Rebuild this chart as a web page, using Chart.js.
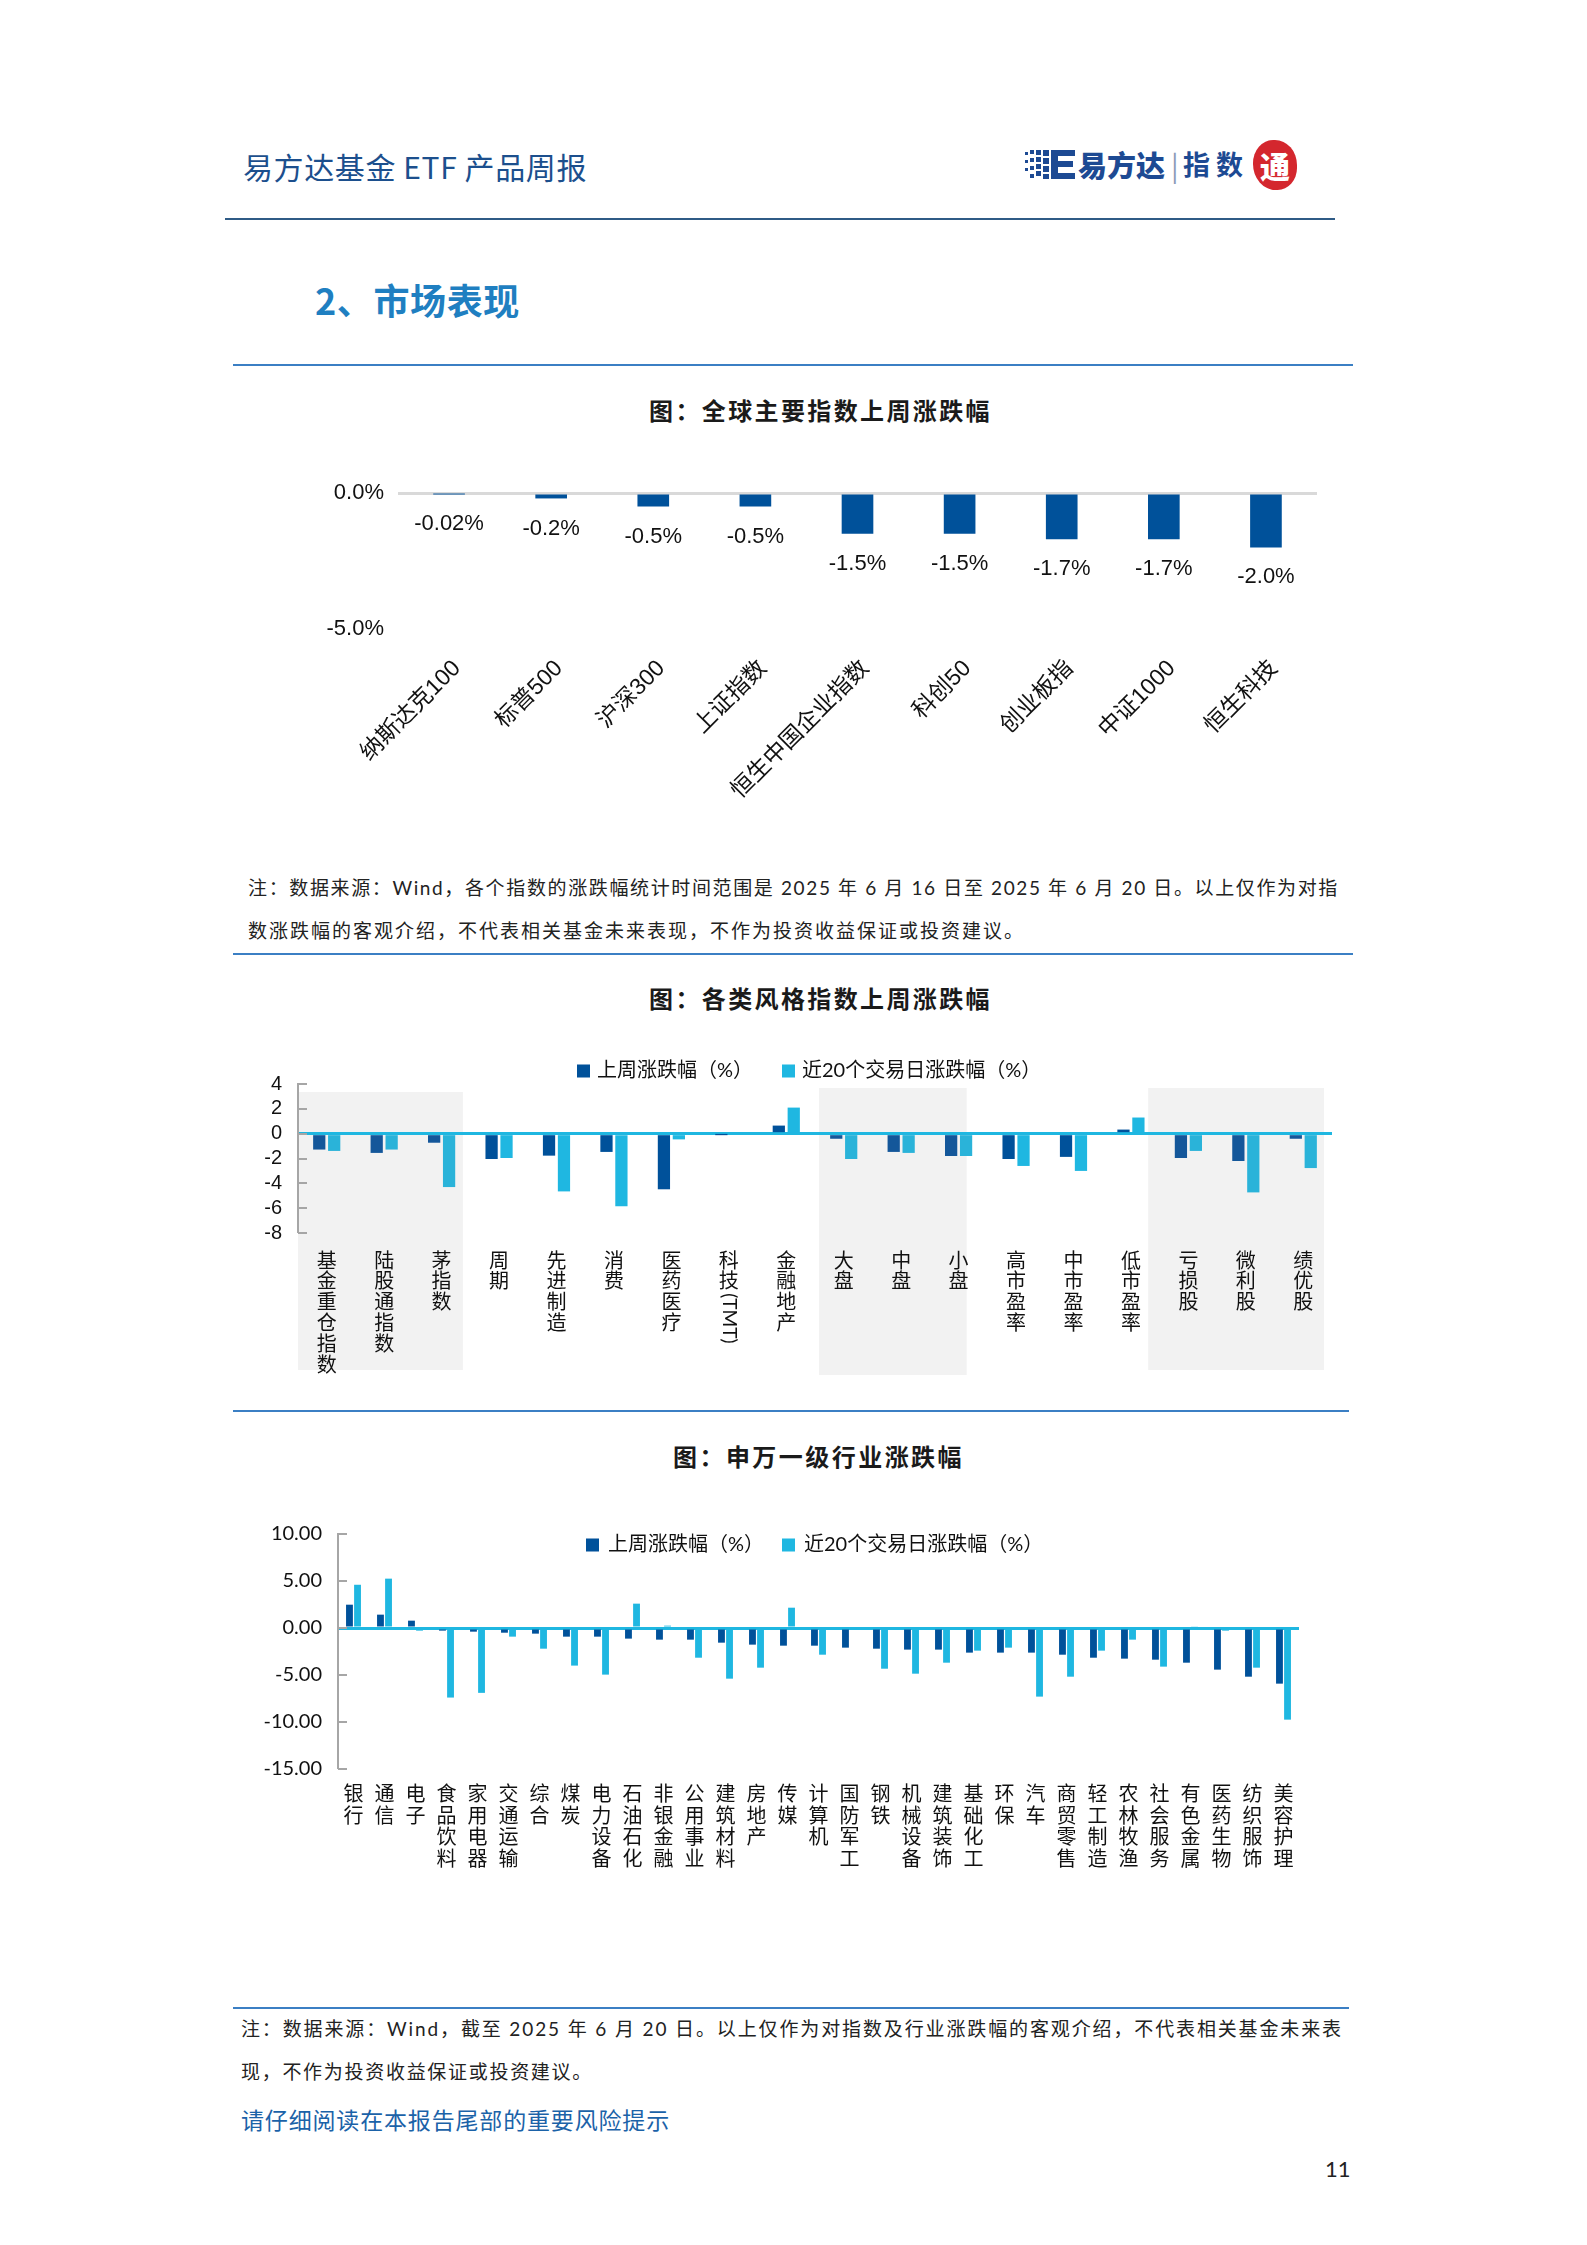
<!DOCTYPE html>
<html lang="zh-CN">
<head>
<meta charset="utf-8">
<title>易方达基金 ETF 产品周报</title>
<script src="https://cdn.jsdelivr.net/npm/chart.js@4.4.1/dist/chart.umd.min.js"></script>
<style>
html, body { margin: 0; padding: 0; background: #fff; }
#pagina { position: relative; width: 1587px; height: 2245px; overflow: hidden; font-family: 'Noto Sans CJK SC', sans-serif; }
.t { position: absolute; white-space: nowrap; height: 40px; line-height: 40px; }
.nota { font-family: 'Lato', 'Noto Sans CJK SC', sans-serif; font-size: 19px; color: #222; }
.titulo { font-size: 24px; font-weight: 700; color: #1a1a1a; }
.linea { position: absolute; height: 0; }
.lienzo { position: absolute; }
</style>
</head>
<body>
<div id="pagina">
    <!-- Cabecera -->
    <div class="t fit" data-w="344" style="left:243px;top:146px;font-size:30px;color:#1c4f8d;">易方达基金 ETF 产品周报</div>
    <div style="position:absolute;left:1025px;top:140px;width:280px;height:52px;">
        <svg width="52" height="36" style="position:absolute;left:0;top:8px">
            <g fill="#1d4a93">
                <rect x="0" y="4" width="3" height="3"/><rect x="0" y="12" width="3" height="3"/><rect x="0" y="20" width="3" height="3"/>
                <rect x="5" y="2" width="4" height="4"/><rect x="5" y="10" width="4" height="4"/><rect x="5" y="18" width="4" height="4"/><rect x="5" y="26" width="4" height="4"/>
                <rect x="11" y="2" width="5" height="5"/><rect x="11" y="9" width="5" height="5"/><rect x="11" y="16" width="5" height="5"/><rect x="11" y="23" width="5" height="5"/>
                <rect x="18" y="2" width="6" height="6"/><rect x="18" y="10" width="6" height="6"/><rect x="18" y="18" width="6" height="6"/><rect x="18" y="26" width="6" height="5"/>
                <path d="M26 2 H50 V8 H33 V13 H48 V19 H33 V25 H50 V31 H26 Z"/>
            </g>
        </svg>
        <div style="position:absolute;left:53px;top:2px;font-size:29px;font-weight:900;color:#1d4a93;line-height:44px;">易方达</div>
        <div style="position:absolute;left:146px;top:2px;font-size:28px;color:#8a9bb8;line-height:44px;">|</div>
        <div style="position:absolute;left:158px;top:2px;font-size:27px;font-weight:700;color:#1d4a93;line-height:44px;letter-spacing:6px;">指数</div>
        <div style="position:absolute;left:228px;top:0px;width:44px;height:50px;border-radius:46% 50% 44% 52%;background:#d4272e;color:#fff;font-size:30px;font-weight:900;line-height:50px;text-align:center;">通</div>
    </div>
    <div class="linea" style="left:225px;top:218px;width:1110px;border-top:2px solid #2f5b86;"></div>

    <div class="t fit" data-w="205" style="left:315px;top:279px;font-size:36px;font-weight:700;color:#1f7fc1;">2、市场表现</div>
    <div class="linea" style="left:233px;top:364px;width:1120px;border-top:2px solid #3b7fc4;"></div>

    <!-- Gráfico 1 -->
    <div class="t titulo fit" data-w="343" style="left:649px;top:390px;">图：全球主要指数上周涨跌幅</div>
    <canvas id="grafico1" class="lienzo" width="1120" height="400" style="left:240px;top:465px;"></canvas>
    <div class="t nota fit" data-w="1091" style="left:248px;top:868px;">注：数据来源：Wind，各个指数的涨跌幅统计时间范围是 2025 年 6 月 16 日至 2025 年 6 月 20 日。以上仅作为对指</div>
    <div class="t nota fit" data-w="777" style="left:248px;top:911px;">数涨跌幅的客观介绍，不代表相关基金未来表现，不作为投资收益保证或投资建议。</div>
    <div class="linea" style="left:233px;top:953px;width:1120px;border-top:2px solid #3b7fc4;"></div>

    <!-- Gráfico 2 -->
    <div class="t titulo fit" data-w="343" style="left:649px;top:978px;">图：各类风格指数上周涨跌幅</div>
    <canvas id="grafico2" class="lienzo" width="1130" height="360" style="left:230px;top:1030px;"></canvas>
    <div class="linea" style="left:233px;top:1410px;width:1116px;border-top:2px solid #3b7fc4;"></div>

    <!-- Gráfico 3 -->
    <div class="t titulo fit" data-w="291" style="left:673px;top:1436px;">图：申万一级行业涨跌幅</div>
    <canvas id="grafico3" class="lienzo" width="1130" height="384" style="left:230px;top:1506px;"></canvas>

    <!-- Pie -->
    <div class="linea" style="left:233px;top:2007px;width:1116px;border-top:2px solid #3b7fc4;"></div>
    <div class="t nota fit" data-w="1102" style="left:241px;top:2009px;">注：数据来源：Wind，截至 2025 年 6 月 20 日。以上仅作为对指数及行业涨跌幅的客观介绍，不代表相关基金未来表</div>
    <div class="t nota fit" data-w="352" style="left:241px;top:2052px;">现，不作为投资收益保证或投资建议。</div>
    <div class="t fit" data-w="429" style="left:241px;top:2099px;font-size:23px;color:#1b62a8;">请仔细阅读在本报告尾部的重要风险提示</div>
    <div class="t" style="left:1325px;top:2149px;font-family:'Lato',sans-serif;font-size:22px;color:#222;">11</div>
</div>

<script>
// Datos: índices globales (%)
const indicesGlobales = ['纳斯达克100', '标普500', '沪深300', '上证指数', '恒生中国企业指数', '科创50', '创业板指', '中证1000', '恒生科技'];
const cambioIndices = [-0.02, -0.2, -0.5, -0.5, -1.5, -1.5, -1.7, -1.7, -2.0];
const ticksIndices = [0, -5];

// Datos: índices de estilo (%)
const estilos = ['基金重仓指数', '陆股通指数', '茅指数', '周期', '先进制造', '消费', '医药医疗', '科技(TMT)', '金融地产',
    '大盘', '中盘', '小盘', '高市盈率', '中市盈率', '低市盈率', '亏损股', '微利股', '绩优股'];
const estiloSemana = [-1.28, -1.55, -0.73, -2.04, -1.77, -1.47, -4.48, -0.02, 0.65, -0.41, -1.47, -1.8, -2.04, -1.87, 0.33, -1.96, -2.2, -0.41];
const estilo20d = [-1.39, -1.28, -4.3, -1.96, -4.65, -5.84, -0.46, 0.03, 2.1, -2.04, -1.55, -1.8, -2.6, -3.0, 1.3, -1.39, -4.73, -2.77];
const ticksEstilos = [4, 2, 0, -2, -4, -6, -8];
const gruposSombreados = [[0, 2], [9, 11], [15, 17]];

// Datos: industrias 申万一级 (%)
const industrias = ['银行', '通信', '电子', '食品饮料', '家用电器', '交通运输', '综合', '煤炭', '电力设备', '石油石化', '非银金融',
    '公用事业', '建筑材料', '房地产', '传媒', '计算机', '国防军工', '钢铁', '机械设备', '建筑装饰', '基础化工', '环保', '汽车',
    '商贸零售', '轻工制造', '农林牧渔', '社会服务', '有色金属', '医药生物', '纺织服饰', '美容护理'];
const industriaSemana = [2.48, 1.42, 0.78, -0.28, -0.39, -0.5, -0.6, -0.92, -0.92, -1.13, -1.24, -1.24, -1.56, -1.77, -1.88, -1.88,
    -2.09, -2.2, -2.3, -2.3, -2.62, -2.62, -2.62, -2.84, -3.16, -3.26, -3.37, -3.69, -4.43, -5.18, -5.92];
const industria20d = [4.6, 5.25, -0.28, -7.4, -6.9, -0.92, -2.2, -4.0, -4.96, 2.59, 0.25, -3.16, -5.39, -4.22, 2.16, -2.84,
    -0.05, -4.33, -4.86, -3.69, -2.41, -2.09, -7.3, -5.18, -2.41, -1.24, -4.11, 0.14, -0.28, -4.22, -9.75];
const ticksIndustrias = [10, 5, 0, -5, -10, -15];

const nombreSemana = '上周涨跌幅（%）';
const nombre20d = '近20个交易日涨跌幅（%）';

const AZUL = '#00519a';
const CIAN = '#1fb7e1';
const AZUL_SOMBRA = '#14579a';
const CIAN_SOMBRA = '#2ab3d9';
const SANS = "'Liberation Sans', Arial, Helvetica, 'Noto Sans CJK SC', sans-serif";

Chart.defaults.font.family = SANS;
Chart.defaults.color = '#111';

// Ajustar el ancho de los textos
function ajustarTextos() {
    document.querySelectorAll('.fit').forEach(el => {
        const objetivo = parseFloat(el.dataset.w);
        el.style.letterSpacing = '0px';
        const natural = el.getBoundingClientRect().width;
        const n = [...el.textContent].length;
        el.style.letterSpacing = ((objetivo - natural) / n) + 'px';
    });
}

// Plugin: etiquetas de valor bajo cada barra
const etiquetasPlugin = {
    id: 'etiquetas',
    afterDatasetsDraw(chart, args, opts) {
        const ctx = chart.ctx;
        const meta = chart.getDatasetMeta(0);
        const valores = chart.data.datasets[0].data;
        ctx.save();
        ctx.font = opts.font;
        ctx.fillStyle = '#111';
        ctx.textAlign = 'center';
        ctx.textBaseline = 'middle';
        meta.data.forEach((barra, i) => {
            const v = valores[i];
            const texto = (Math.abs(v) < 0.1 ? v.toFixed(2) : v.toFixed(1)) + '%';
            ctx.fillText(texto, barra.x, barra.y + opts.desfase);
        });
        ctx.restore();
    }
};

// Plugin: leyenda dibujada en una posición fija
const leyendaPlugin = {
    id: 'leyenda',
    afterDraw(chart, args, opts) {
        const ctx = chart.ctx;
        ctx.save();
        ctx.font = opts.font;
        ctx.textBaseline = 'middle';
        ctx.textAlign = 'left';
        chart.data.datasets.forEach((ds, i) => {
            const item = opts.items[i];
            ctx.fillStyle = ds.colorLeyenda;
            ctx.fillRect(item.x, opts.y - opts.lado / 2, opts.lado, opts.lado);
            ctx.fillStyle = '#111';
            ctx.fillText(ds.label, item.x + opts.lado + opts.hueco, opts.y);
        });
        ctx.restore();
    }
};

// Plugin: zonas grises de fondo
const sombraPlugin = {
    id: 'sombra',
    beforeDraw(chart, args, opts) {
        const x = chart.scales.x;
        const ctx = chart.ctx;
        const paso = x.width / chart.data.labels.length;
        ctx.save();
        ctx.fillStyle = opts.color;
        opts.zonas.forEach((z, i) => {
            const grupo = gruposSombreados[i];
            const x0 = x.getPixelForValue(grupo[0]) - paso * z.izq;
            const x1 = x.getPixelForValue(grupo[1]) + paso * z.der;
            ctx.fillRect(x0, z.arriba, x1 - x0, z.abajo - z.arriba);
        });
        ctx.restore();
    }
};

// Plugin: marcas cortas del eje Y hacia dentro
const marcasPlugin = {
    id: 'marcas',
    afterDraw(chart, args, opts) {
        const y = chart.scales.y;
        const ctx = chart.ctx;
        const x0 = chart.chartArea.left;
        ctx.save();
        ctx.strokeStyle = opts.color;
        ctx.lineWidth = 2;
        y.ticks.forEach(t => {
            const py = Math.round(y.getPixelForValue(t.value));
            ctx.beginPath();
            ctx.moveTo(x0, py);
            ctx.lineTo(x0 + opts.largo, py);
            ctx.stroke();
        });
        ctx.restore();
    }
};

// Plugin: texto latino girado en etiquetas verticales, p.ej. (TMT)
const giradoPlugin = {
    id: 'girado',
    afterDraw(chart, args, opts) {
        const x = chart.scales.x;
        const ctx = chart.ctx;
        ctx.save();
        ctx.font = opts.font;
        ctx.fillStyle = '#111';
        ctx.textAlign = 'left';
        ctx.textBaseline = 'middle';
        chart.data.labels.forEach((etq, i) => {
            const m = etq.match(/\(.*\)/);
            if (!m) return;
            const lineas = etq.replace(m[0], '').length;
            const px = x.getPixelForValue(i);
            const py = x.top + opts.relleno + lineas * opts.alto + 2;
            ctx.save();
            ctx.translate(px, py);
            ctx.rotate(Math.PI / 2);
            ctx.fillText(m[0], 0, 0);
            ctx.restore();
        });
        ctx.restore();
    }
};

function lineaCero(color) {
    return {
        drawTicks: false,
        color: c => (c.tick && c.tick.value === 0) ? color : 'rgba(0,0,0,0)',
        lineWidth: c => (c.tick && c.tick.value === 0) ? 3 : 0
    };
}

function etiquetaVertical(etq) {
    return [...etq.replace(/\(.*\)/, '')];
}

// Gráfico 1: índices globales
function crearGrafico1() {
    const ctx = document.getElementById('grafico1').getContext('2d');
    new Chart(ctx, {
        type: 'bar',
        data: {
            labels: indicesGlobales,
            datasets: [{
                label: '上周涨跌幅',
                data: cambioIndices,
                backgroundColor: AZUL,
                categoryPercentage: 1,
                barPercentage: 0.31
            }]
        },
        options: {
            responsive: false,
            animation: false,
            events: [],
            layout: { padding: { top: 28, right: 43, left: 0, bottom: 0 } },
            plugins: {
                legend: { display: false },
                tooltip: { enabled: false },
                etiquetas: { font: "22px " + SANS, desfase: 30 }
            },
            scales: {
                x: {
                    afterFit: s => { s.height = 236; },
                    grid: { display: false, drawTicks: false },
                    border: { display: false },
                    ticks: {
                        autoSkip: false,
                        minRotation: 45,
                        maxRotation: 45,
                        padding: 26,
                        labelOffset: 8,
                        color: '#111',
                        font: { size: 23 }
                    }
                },
                y: {
                    min: -5,
                    max: 0,
                    afterFit: s => { s.width = 158; },
                    afterBuildTicks: s => { s.ticks = ticksIndices.map(v => ({ value: v })); },
                    grid: lineaCero('#d9d9d9'),
                    border: { display: false },
                    ticks: {
                        autoSkip: false,
                        padding: 14,
                        color: '#111',
                        font: { size: 22 },
                        callback: v => v.toFixed(1) + '%'
                    }
                }
            }
        },
        plugins: [etiquetasPlugin]
    });
}

// Gráfico 2: índices de estilo
function crearGrafico2() {
    const enSombra = i => gruposSombreados.some(g => i >= g[0] && i <= g[1]);
    const ctx = document.getElementById('grafico2').getContext('2d');
    new Chart(ctx, {
        type: 'bar',
        data: {
            labels: estilos,
            datasets: [{
                label: nombreSemana,
                data: estiloSemana,
                colorLeyenda: AZUL,
                backgroundColor: c => enSombra(c.dataIndex) ? AZUL_SOMBRA : AZUL,
                categoryPercentage: 0.52,
                barPercentage: 0.82
            }, {
                label: nombre20d,
                data: estilo20d,
                colorLeyenda: CIAN,
                backgroundColor: c => enSombra(c.dataIndex) ? CIAN_SOMBRA : CIAN,
                categoryPercentage: 0.52,
                barPercentage: 0.82
            }]
        },
        options: {
            responsive: false,
            animation: false,
            events: [],
            layout: { padding: { top: 54, right: 28, left: 0, bottom: 0 } },
            plugins: {
                legend: { display: false },
                tooltip: { enabled: false },
                leyenda: {
                    font: "20px 'Lato', 'Noto Sans CJK SC'",
                    y: 41, lado: 13, hueco: 7,
                    items: [{ x: 347 }, { x: 552 }]
                },
                sombra: {
                    color: '#f2f2f2',
                    zonas: [
                        { izq: 0.5, der: 0.37, arriba: 62, abajo: 340 },
                        { izq: 0.43, der: 0.14, arriba: 58, abajo: 345 },
                        { izq: 0.7, der: 0.36, arriba: 58, abajo: 340 }
                    ]
                },
                marcas: { color: '#a6a6a6', largo: 9 },
                girado: { font: "19px 'Lato'", relleno: 16.5, alto: 20.9 }
            },
            scales: {
                x: {
                    afterFit: s => { s.height = 157; },
                    grid: { display: false, drawTicks: false },
                    border: { display: false },
                    ticks: {
                        autoSkip: false,
                        maxRotation: 0,
                        padding: 16.5,
                        color: '#111',
                        font: { size: 20, lineHeight: 1.045, family: "'Noto Sans CJK SC'" },
                        callback: function (v) { return etiquetaVertical(this.getLabelForValue(v)); }
                    }
                },
                y: {
                    min: -8,
                    max: 4,
                    afterFit: s => { s.width = 68; },
                    afterBuildTicks: s => { s.ticks = ticksEstilos.map(v => ({ value: v })); },
                    grid: lineaCero(CIAN),
                    border: { display: true, color: '#a6a6a6', width: 2 },
                    ticks: {
                        autoSkip: false,
                        padding: 16,
                        color: '#111',
                        font: { size: 20 }
                    }
                }
            }
        },
        plugins: [sombraPlugin, marcasPlugin, leyendaPlugin, giradoPlugin]
    });
}

// Gráfico 3: industrias
function crearGrafico3() {
    const ctx = document.getElementById('grafico3').getContext('2d');
    new Chart(ctx, {
        type: 'bar',
        data: {
            labels: industrias,
            datasets: [{
                label: nombreSemana,
                data: industriaSemana,
                colorLeyenda: AZUL,
                backgroundColor: AZUL,
                categoryPercentage: 0.52,
                barPercentage: 0.85
            }, {
                label: nombre20d,
                data: industria20d,
                colorLeyenda: CIAN,
                backgroundColor: CIAN,
                categoryPercentage: 0.52,
                barPercentage: 0.85
            }]
        },
        options: {
            responsive: false,
            animation: false,
            events: [],
            layout: { padding: { top: 28, right: 61, left: 0, bottom: 0 } },
            plugins: {
                legend: { display: false },
                tooltip: { enabled: false },
                leyenda: {
                    font: "20px 'Lato', 'Noto Sans CJK SC'",
                    y: 39, lado: 13, hueco: 9,
                    items: [{ x: 356 }, { x: 552 }]
                },
                marcas: { color: '#a6a6a6', largo: 9 }
            },
            scales: {
                x: {
                    afterFit: s => { s.height = 121; },
                    grid: { display: false, drawTicks: false },
                    border: { display: false },
                    ticks: {
                        autoSkip: false,
                        maxRotation: 0,
                        padding: 14,
                        color: '#111',
                        font: { size: 20, lineHeight: 1.075, family: "'Noto Sans CJK SC'" },
                        callback: function (v) { return etiquetaVertical(this.getLabelForValue(v)); }
                    }
                },
                y: {
                    min: -15,
                    max: 10,
                    afterFit: s => { s.width = 108; },
                    afterBuildTicks: s => { s.ticks = ticksIndustrias.map(v => ({ value: v })); },
                    grid: lineaCero(CIAN),
                    border: { display: true, color: '#a6a6a6', width: 2 },
                    ticks: {
                        autoSkip: false,
                        padding: 16,
                        color: '#111',
                        font: { size: 20, family: "'Lato'" },
                        callback: v => v.toFixed(2)
                    }
                }
            }
        },
        plugins: [marcasPlugin, leyendaPlugin]
    });
}

document.addEventListener('DOMContentLoaded', function () {
    document.fonts.ready.then(() => {
        ajustarTextos();
        crearGrafico1();
        crearGrafico2();
        crearGrafico3();
    });
});
</script>
</body>
</html>
